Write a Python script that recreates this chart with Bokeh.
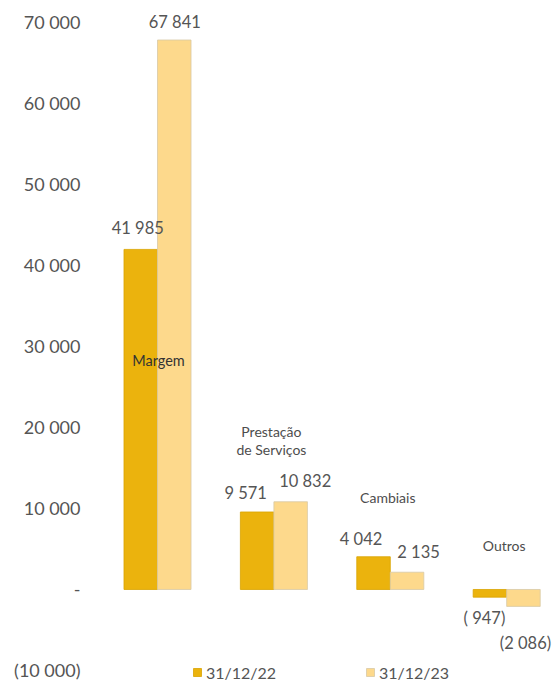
from bokeh.plotting import figure
from bokeh.models import ColumnDataSource, FixedTicker, Range1d, Legend, LegendItem
from bokeh.core.properties import value
from bokeh.embed import file_html
from bokeh.resources import INLINE

categories = ["Margem", "Prestação\nde Serviços", "Cambiais", "Outros"]
series_names = ["31/12/22", "31/12/23"]
values_2022 = [41985, 9571, 4042, -947]
values_2023 = [67841, 10832, 2135, -2086]
labels_2022 = ["41 985", "9 571", "4 042", "( 947)"]
labels_2023 = ["67 841", "10 832", "2 135", "(2 086)"]
y_ticks = [-10000, 0, 10000, 20000, 30000, 40000, 50000, 60000, 70000]
y_tick_labels = ["(10 000)", "-", "10 000", "20 000", "30 000", "40 000", "50 000", "60 000", "70 000"]

# styling (pixel offsets for labels)
dx22 = [-3, -11.5, -12.5, -5.5]
dy22 = [-21, -19, -18, 21]
dx23 = [0.5, 14.5, 11.5, 2]
dy23 = [-18, -21, -20, 37]
cat_dx = [1, -2.5, -2.5, -2.5]           # px
cat_y = [28270, 18395, 11360, 5430]      # vertical placement of category captions (data units)
cat_color = ["#333333", "#4d4d4d", "#4d4d4d", "#4d4d4d"]
cat_size = ["14.5px", "14px", "14px", "14px"]

DARK = "#EBB30D"
LIGHT = "#FDD98C"
TXT = "#555555"
FONT = "Lato"

xs = list(range(len(categories)))
w = 0.288

p = figure(width=556, height=683, output_backend="svg", toolbar_location=None,
           x_range=Range1d(-0.507, 3.428), y_range=Range1d(-11605, 72716),
           min_border_left=98, min_border_right=0, min_border_top=0, min_border_bottom=0)
p.outline_line_color = None
p.xgrid.visible = False
p.ygrid.visible = False
p.xaxis.visible = False

src = ColumnDataSource(dict(
    x22=[x - w / 2 for x in xs], x23=[x + w / 2 for x in xs],
    v22=values_2022, v23=values_2023,
    l22=labels_2022, l23=labels_2023,
    dx22=dx22, dy22=dy22, dx23=dx23, dy23=dy23,
))

r22 = p.vbar(x="x22", top="v22", bottom=0, width=w, source=src,
             fill_color=DARK, line_color="#D9A300", line_width=0.8)
r23 = p.vbar(x="x23", top="v23", bottom=0, width=w, source=src,
             fill_color=LIGHT, line_color="#D8C9A6", line_width=0.8)

p.text(x="x22", y="v22", text="l22", x_offset="dx22", y_offset="dy22", source=src,
       text_align="center", text_baseline="middle", text_font=value(FONT),
       text_font_size="16.5px", text_color=TXT)
p.text(x="x23", y="v23", text="l23", x_offset="dx23", y_offset="dy23", source=src,
       text_align="center", text_baseline="middle", text_font=value(FONT),
       text_font_size="16.5px", text_color=TXT)

cat_src = ColumnDataSource(dict(x=xs, y=cat_y, t=categories, dx=cat_dx, c=cat_color, s=cat_size))
p.text(x="x", y="y", text="t", x_offset="dx", source=cat_src,
       text_align="center", text_baseline="middle",
       text_font=value(FONT), text_font_size="s", text_color="c",
       text_line_height=1.1)

p.yaxis.ticker = FixedTicker(ticks=y_ticks)
p.yaxis.major_label_overrides = {t: l for t, l in zip(y_ticks, y_tick_labels)}
p.yaxis.axis_line_color = None
p.yaxis.major_tick_line_color = None
p.yaxis.minor_tick_line_color = None
p.yaxis.major_label_standoff = 12
p.yaxis.major_label_text_font = FONT
p.yaxis.major_label_text_font_size = "18px"
p.yaxis.major_label_text_color = TXT

legend = Legend(items=[LegendItem(label=series_names[0], renderers=[r22]),
                       LegendItem(label=series_names[1], renderers=[r23])],
                location=(94, 1), orientation="horizontal",
                glyph_width=10, glyph_height=10, label_width=159, label_height=20,
                label_standoff=4, spacing=0, padding=0, margin=0,
                border_line_color=None, background_fill_alpha=0,
                label_text_font=FONT, label_text_font_size="16px", label_text_color=TXT)
p.add_layout(legend)

open("out.html", "w").write(file_html(p, INLINE))
